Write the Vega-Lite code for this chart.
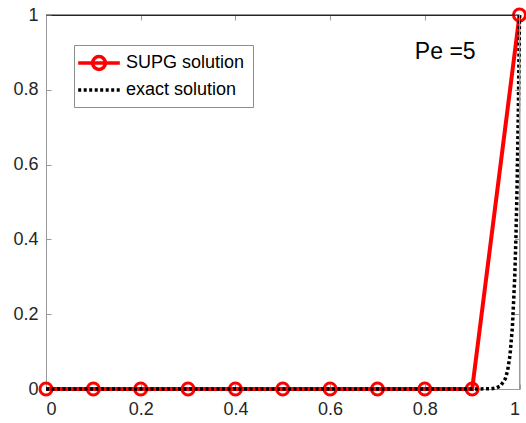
{
  "$schema": "https://vega.github.io/schema/vega-lite/v6.json",
  "width": 473.5,
  "height": 374,
  "autosize": {"type": "none"},
  "padding": {"left": 46, "top": 15, "right": 6.5, "bottom": 34},
  "background": "white",
  "config": {
    "font": "Liberation Sans",
    "view": {"stroke": null},
    "axis": {
      "grid": false,
      "domainColor": "#9a9a9a",
      "domainWidth": 1,
      "tickColor": "#9a9a9a",
      "tickSize": -5,
      "labelFont": "Liberation Sans",
      "labelFontSize": 18,
      "labelColor": "#262626",
      "title": null
    }
  },
  "resolve": {"axis": {"x": "independent", "y": "independent"}},
  "datasets": {
    "curves": [
      {"x": 0.0, "u": 0, "series": "SUPG solution"},
      {"x": 0.1, "u": 0, "series": "SUPG solution"},
      {"x": 0.2, "u": 0, "series": "SUPG solution"},
      {"x": 0.3, "u": 0, "series": "SUPG solution"},
      {"x": 0.4, "u": 0, "series": "SUPG solution"},
      {"x": 0.5, "u": 0, "series": "SUPG solution"},
      {"x": 0.6, "u": 0, "series": "SUPG solution"},
      {"x": 0.7, "u": 0, "series": "SUPG solution"},
      {"x": 0.8, "u": 0, "series": "SUPG solution"},
      {"x": 0.9, "u": 0, "series": "SUPG solution"},
      {"x": 1.0, "u": 1, "series": "SUPG solution"},
      {"x": 0.0, "u": 0, "series": "exact solution"},
      {"x": 0.5, "u": 0, "series": "exact solution"},
      {"x": 0.9, "u": 0.000006, "series": "exact solution"},
      {"x": 0.94, "u": 0.00075, "series": "exact solution"},
      {"x": 0.95, "u": 0.00248, "series": "exact solution"},
      {"x": 0.96, "u": 0.00823, "series": "exact solution"},
      {"x": 0.97, "u": 0.0273, "series": "exact solution"},
      {"x": 0.975, "u": 0.0498, "series": "exact solution"},
      {"x": 0.98, "u": 0.0907, "series": "exact solution"},
      {"x": 0.985, "u": 0.1653, "series": "exact solution"},
      {"x": 0.99, "u": 0.3012, "series": "exact solution"},
      {"x": 0.9925, "u": 0.4066, "series": "exact solution"},
      {"x": 0.995, "u": 0.5488, "series": "exact solution"},
      {"x": 0.9975, "u": 0.7408, "series": "exact solution"},
      {"x": 1.0, "u": 1, "series": "exact solution"}
    ],
    "note": [{"label": "Pe =5"}]
  },
  "layer": [
    {
      "data": {"name": "curves"},
      "transform": [{"filter": "datum.series === 'SUPG solution'"}],
      "mark": {"type": "line", "strokeWidth": 4, "clip": false},
      "encoding": {
        "x": {
          "field": "x",
          "type": "quantitative",
          "scale": {"domain": [0, 1], "nice": false, "zero": false},
          "axis": {"orient": "bottom", "labelPadding": 16, "values": [0, 0.2, 0.4, 0.6, 0.8, 1], "format": "~g"}
        },
        "y": {
          "field": "u",
          "type": "quantitative",
          "scale": {"domain": [0, 1], "nice": false},
          "axis": {"orient": "left", "labelPadding": 13, "values": [0, 0.2, 0.4, 0.6, 0.8, 1], "format": "~g"}
        },
        "color": {
          "field": "series",
          "type": "nominal",
          "scale": {"domain": ["SUPG solution", "exact solution"], "range": ["#ff0000", "#000000"]},
          "legend": {
            "title": null,
            "orient": "none",
            "legendX": 28,
            "legendY": 30,
            "fillColor": "white",
            "strokeColor": "#8c8c8c",
            "padding": 8,
            "symbolSize": 256,
            "symbolOffset": 7,
            "labelOffset": 17,
            "labelFontSize": 18,
            "labelColor": "#000000",
            "labelFont": "Liberation Sans",
            "rowPadding": 3,
            "encode": {
              "symbols": {
                "update": {
                  "shape": {"signal": "datum.value === 'SUPG solution' ? 'M-2.6,0H2.6M0.8,0A0.8,0.8,0,1,1,-0.8,0A0.8,0.8,0,1,1,0.8,0' : 'M-2.6,0H2.6'"},
                  "strokeDash": {"signal": "datum.value === 'SUPG solution' ? [] : [3, 2.5]"},
                  "strokeWidth": {"value": 3.5},
                  "fill": {"value": "transparent"}
                }
              }
            }
          }
        }
      }
    },
    {
      "data": {"name": "curves"},
      "transform": [{"filter": "datum.series === 'SUPG solution'"}],
      "mark": {"type": "point", "shape": "circle", "filled": false, "size": 144, "strokeWidth": 3, "color": "#ff0000", "opacity": 1, "clip": false},
      "encoding": {
        "x": {"field": "x", "type": "quantitative", "axis": null},
        "y": {"field": "u", "type": "quantitative", "axis": null}
      }
    },
    {
      "data": {"name": "curves"},
      "transform": [{"filter": "datum.series === 'exact solution'"}],
      "mark": {"type": "line", "strokeWidth": 3.5, "strokeDash": [3, 2.5], "clip": false},
      "encoding": {
        "x": {"field": "x", "type": "quantitative", "axis": null},
        "y": {"field": "u", "type": "quantitative", "axis": null},
        "color": {"field": "series", "type": "nominal"}
      }
    },
    {
      "data": {"name": "note"},
      "mark": {"type": "text", "fontSize": 23, "font": "Liberation Sans", "align": "left", "baseline": "alphabetic", "color": "#000000"},
      "encoding": {
        "text": {"field": "label"},
        "x": {"datum": 0.779, "type": "quantitative", "axis": null},
        "y": {"datum": 0.882, "type": "quantitative", "axis": null}
      }
    },
    {
      "data": {"name": "note"},
      "mark": {"type": "rule", "color": "#262626", "strokeWidth": 1},
      "encoding": {
        "x": {
          "datum": 0,
          "type": "quantitative",
          "axis": {"orient": "top", "labels": false, "values": [0, 0.2, 0.4, 0.6, 0.8, 1], "domainColor": "#262626"}
        },
        "x2": {"datum": 1},
        "y": {"datum": 1, "type": "quantitative", "axis": null}
      }
    },
    {
      "data": {"name": "note"},
      "mark": {"type": "rule", "color": "#9a9a9a", "strokeWidth": 1},
      "encoding": {
        "x": {"datum": 1, "type": "quantitative", "axis": null},
        "y": {
          "datum": 0,
          "type": "quantitative",
          "axis": {"orient": "right", "labels": false, "values": [0, 0.2, 0.4, 0.6, 0.8, 1]}
        },
        "y2": {"datum": 1}
      }
    }
  ]
}
